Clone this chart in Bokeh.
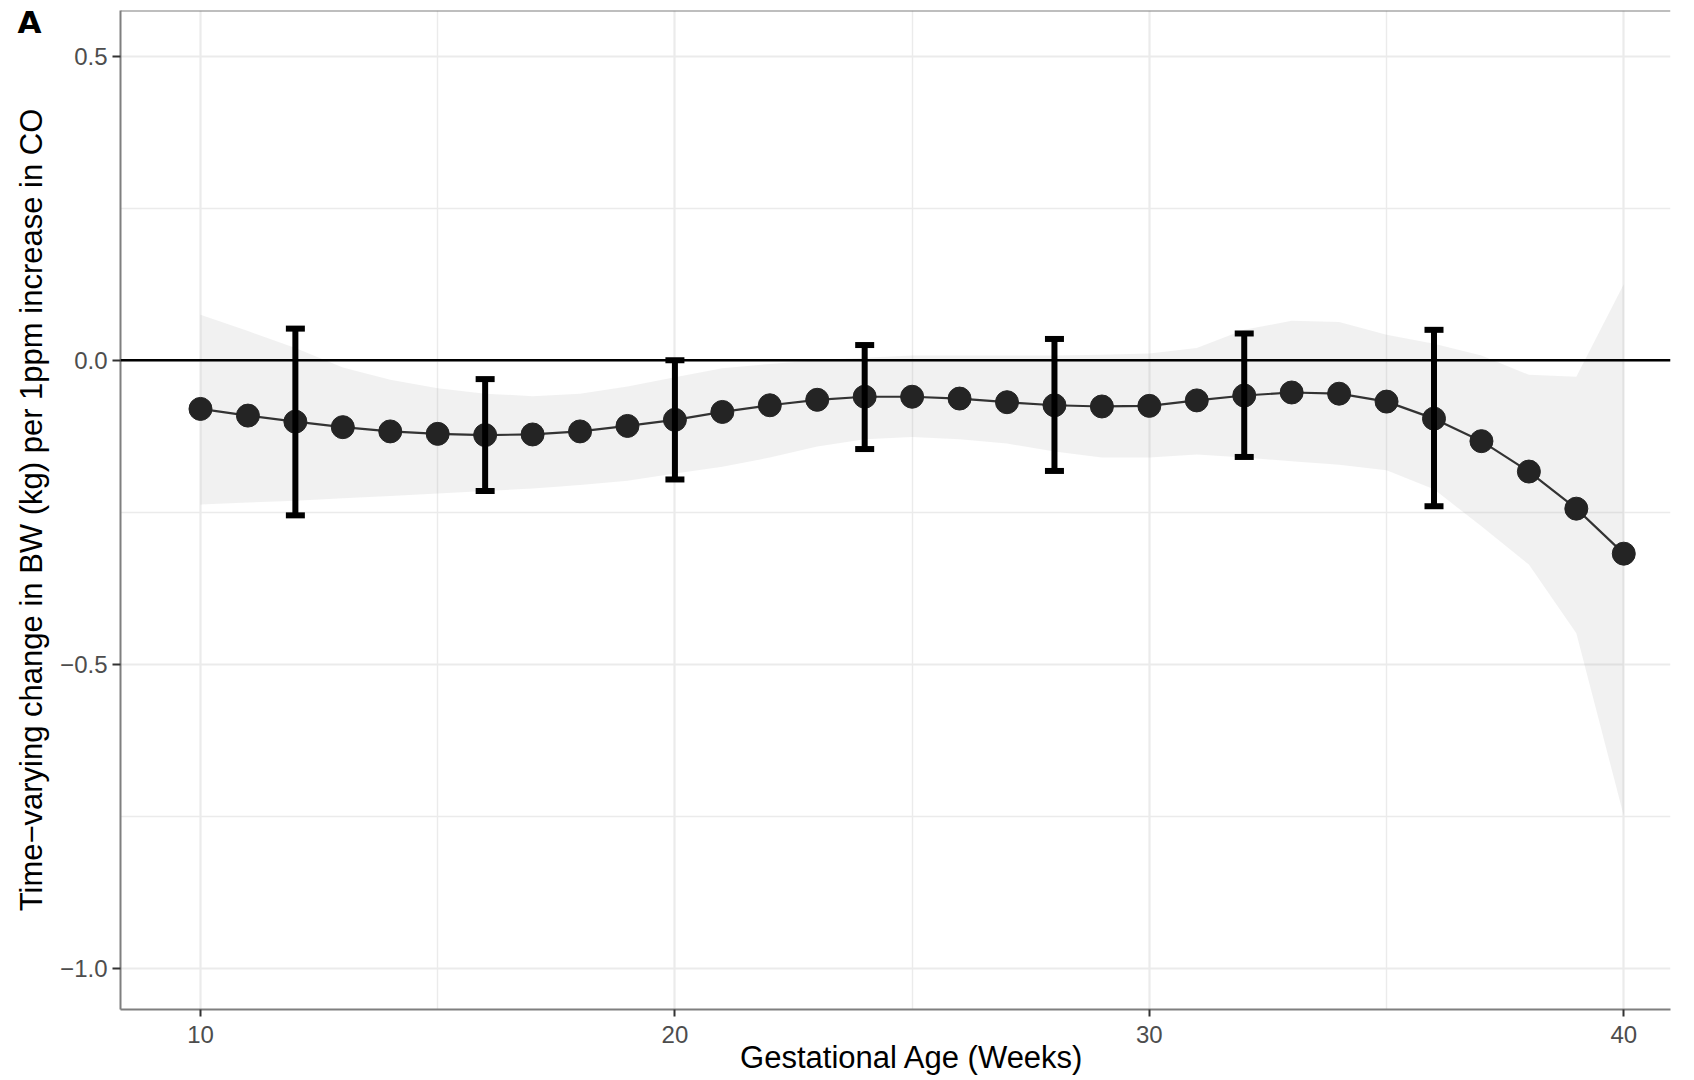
from bokeh.plotting import figure
from bokeh.models import (ColumnDataSource, Whisker, TeeHead, Span, Label,
                          FixedTicker, CustomJSTickFormatter, Range1d)
from bokeh.embed import file_html
from bokeh.resources import INLINE

# ---------------- data ----------------
weeks = list(range(10, 41))
estimate = [-0.080, -0.091, -0.101, -0.110, -0.117, -0.121, -0.123, -0.122, -0.117, -0.108,
            -0.098, -0.085, -0.074, -0.065, -0.060, -0.060, -0.063, -0.069, -0.074, -0.076,
            -0.075, -0.066, -0.058, -0.053, -0.055, -0.068, -0.096, -0.133, -0.183, -0.244,
            -0.318]
ribbon_lower = [-0.237, -0.234, -0.231, -0.227, -0.223, -0.219, -0.215, -0.211, -0.205, -0.198,
                -0.186, -0.175, -0.160, -0.142, -0.130, -0.126, -0.130, -0.137, -0.150, -0.160,
                -0.160, -0.155, -0.160, -0.166, -0.172, -0.181, -0.212, -0.273, -0.336, -0.449,
                -0.749]
ribbon_upper = [0.075, 0.048, 0.020, -0.012, -0.032, -0.046, -0.055, -0.059, -0.055, -0.043,
                -0.028, -0.013, -0.006, 0.000, 0.004, 0.008, 0.008, 0.008, 0.008, 0.009,
                0.011, 0.020, 0.050, 0.065, 0.063, 0.042, 0.027, 0.008, -0.024, -0.027,
                0.125]
eb_weeks = [12, 16, 20, 24, 28, 32, 36]
eb_lower = [-0.255, -0.215, -0.196, -0.146, -0.182, -0.159, -0.240]
eb_upper = [0.052, -0.031, 0.000, 0.025, 0.035, 0.044, 0.050]

x_ticks = [10, 20, 30, 40]
x_minor = [15, 25, 35]
y_ticks = [-1.0, -0.5, 0.0, 0.5]
y_minor = [-0.75, -0.25, 0.25]

panel_label = "A"
x_title = "Gestational Age (Weeks)"
y_title = "Time\u2212varying change in BW (kg) per 1ppm increase in CO"

FONT = "Liberation Sans, Arial, Helvetica, sans-serif"
TAG_FONT = "DejaVu Sans, Liberation Sans, sans-serif"

# ---------------- figure ----------------
x0, x1 = 8.314, 40.985
y0, y1 = -1.0674, 0.575
p = figure(width=1694, height=1080, output_backend="svg", toolbar_location=None,
           x_range=Range1d(x0, x1), y_range=Range1d(y0, y1),
           min_border_left=120, min_border_right=0, min_border_top=10, min_border_bottom=60)
p.outline_line_color = None
p.background_fill_color = "white"
p.border_fill_color = "white"

# axes
p.xaxis.ticker = FixedTicker(ticks=x_ticks, minor_ticks=x_minor)
p.yaxis.ticker = FixedTicker(ticks=y_ticks, minor_ticks=y_minor)
p.xaxis.formatter = CustomJSTickFormatter(code="return tick.toFixed(0);")
p.yaxis.formatter = CustomJSTickFormatter(
    code="return (tick < 0 ? '\\u2212' : '') + Math.abs(tick).toFixed(1);")
for ax in (p.xaxis[0], p.yaxis[0]):
    ax.axis_line_color = "#7f7f7f"
    ax.axis_line_width = 2
    ax.major_tick_line_color = "#333333"
    ax.major_tick_line_width = 2
    ax.major_tick_in = 0
    ax.minor_tick_line_color = None
    ax.major_label_text_font = FONT
    ax.major_label_text_font_size = "24px"
    ax.major_label_text_color = "#4d4d4d"
    ax.axis_label_text_font = FONT
    ax.axis_label_text_font_size = "31px"
    ax.axis_label_text_font_style = "normal"
    ax.axis_label_text_color = "black"
p.xaxis.major_tick_out = 7
p.yaxis.major_tick_out = 8
p.xaxis.major_label_standoff = 9
p.yaxis.major_label_standoff = 5

p.yaxis.axis_label = y_title
p.yaxis.axis_label_standoff = 8

# grid
for g in (p.xgrid[0], p.ygrid[0]):
    g.grid_line_color = "#ebebeb"
    g.grid_line_width = 2.2
    g.minor_grid_line_color = "#ebebeb"
    g.minor_grid_line_width = 1.4

# ribbon
p.varea(x=weeks, y1=ribbon_lower, y2=ribbon_upper, fill_color="#a6a6a6", fill_alpha=0.16)

# zero line
p.add_layout(Span(location=0, dimension="width", line_color="black", line_width=2.5))
# top panel border
p.add_layout(Span(location=y1, dimension="width", line_color="#7f7f7f", line_width=2))

# line + points
p.line(weeks, estimate, line_color="#333333", line_width=2.2)
p.scatter(weeks, estimate, size=23, fill_color="#242424", line_color="#242424")

# error bars
eb_src = ColumnDataSource(dict(base=eb_weeks, lower=eb_lower, upper=eb_upper))
p.add_layout(Whisker(source=eb_src, base="base", lower="lower", upper="upper",
                     line_color="black", line_width=6, level="annotation",
                     upper_head=TeeHead(size=19, line_width=6, line_color="black"),
                     lower_head=TeeHead(size=19, line_width=6, line_color="black")))

# x-axis title, centred on the full (ggplot) panel width; placed in the bottom side panel
p.add_layout(Label(x=25.0, y=-1.1459, text=x_title, text_font=FONT,
                   text_font_size="31px", text_color="black",
                   text_align="center", text_baseline="middle"), "below")

# panel tag "A" in the top-left margin (a side-panel label is not clipped to the frame)
p.add_layout(Label(x=6.143, y=0.5553, text=panel_label, text_font=TAG_FONT,
                   text_font_size="31px", text_font_style="bold", text_color="black",
                   text_align="left", text_baseline="middle"), "right")

open("out.html", "w").write(file_html(p, INLINE))
